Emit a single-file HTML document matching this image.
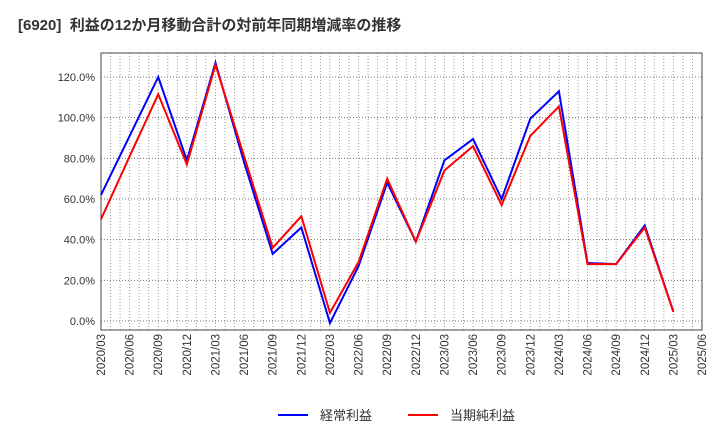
<!DOCTYPE html>
<html><head><meta charset="utf-8"><style>
body{margin:0;background:#fff;}
svg{display:block;font-family:"Liberation Sans","Noto Sans CJK JP",sans-serif;}
</style></head><body>
<svg id="c" width="720" height="440">
<text x="18" y="30" font-size="15" font-weight="bold" fill="#333">[6920]&#160;&#160;利益の12か月移動合計の対前年同期増減率の推移</text>
<g id="grid"></g><g id="axes"></g><g id="series"></g>
<g>
<line x1="278" y1="415" x2="308" y2="415" stroke="#0000ff" stroke-width="2"/>
<text x="320" y="420" font-size="13" fill="#333">経常利益</text>
<line x1="408" y1="415" x2="438" y2="415" stroke="#ff0000" stroke-width="2"/>
<text x="450" y="420" font-size="13" fill="#333">当期純利益</text>
</g>
</svg>
<script>
const categories=["2020/03","2020/06","2020/09","2020/12","2021/03","2021/06","2021/09","2021/12","2022/03","2022/06","2022/09","2022/12","2023/03","2023/06","2023/09","2023/12","2024/03","2024/06","2024/09","2024/12","2025/03","2025/06"];
const keijo=[62,91,120,79,127,78,33,46,-1,27,68,39,79,89.5,60,99.5,113,28.5,28,47,4.5];
const junrieki=[50,81,111.5,77,126,81,36,51.5,4,29,70,39,74,86,57,91,105.5,28,28,46,4.5];
const yTicks=[0,20,40,60,80,100,120];
const NS="http://www.w3.org/2000/svg";
const L=101,R=702,T=53,B=330;
const x=i=>L+i*(R-L)/(categories.length-1);
const y=v=>321-v*(244/120);
function el(t,a,p){const e=document.createElementNS(NS,t);for(const k in a)e.setAttribute(k,a[k]);document.getElementById(p).appendChild(e);return e;}
for(let m=0;m<=63;m++){const xx=L+m*(R-L)/63;
const g=el('line',{x1:xx,y1:T,x2:xx,y2:B,stroke:'#999','stroke-dasharray':'1,2','stroke-width':1},'grid');

}
yTicks.forEach(v=>{const g=el('line',{x1:L,y1:y(v),x2:R,y2:y(v),stroke:'#777','stroke-dasharray':'1,2','stroke-width':1},'grid');


const t=el('text',{x:L-6,y:y(v)+4,'text-anchor':'end','font-size':11,fill:'#333'},'axes');t.textContent=v.toFixed(1)+'%';

});
const f=el('rect',{x:L,y:T,width:R-L,height:B-T,fill:'none',stroke:'#444','stroke-width':1},'axes');


categories.forEach((c,i)=>{const t=el('text',{transform:`translate(${x(i)+4},${B+4}) rotate(-90)`,'text-anchor':'end','font-size':11.5,fill:'#333'},'axes');t.textContent=c;

});
function line(d,col,name){const p=el('polyline',{points:d.map((v,i)=>x(i)+','+y(v)).join(' '),fill:'none',stroke:col,'stroke-width':2},'series');

}
line(keijo,'#0000ff','keijo-line');
line(junrieki,'#ff0000','junrieki-line');
</script>
</body></html>
